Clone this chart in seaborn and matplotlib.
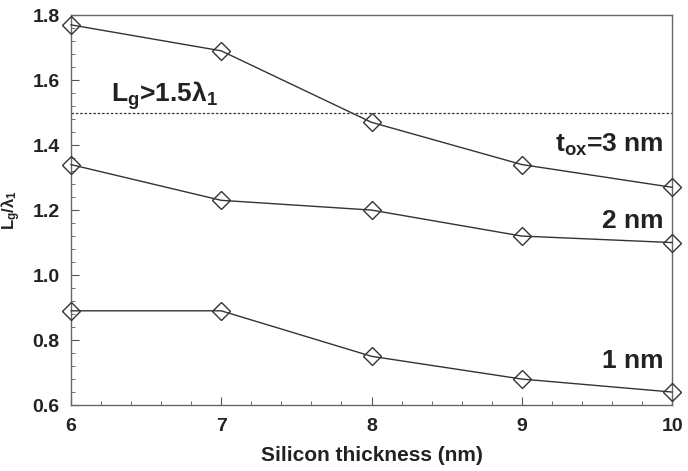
import matplotlib
matplotlib.use('Agg')
import matplotlib.pyplot as plt
from matplotlib.ticker import AutoMinorLocator
import pandas as pd
import seaborn as sns

thickness = [6, 7, 8, 9, 10]
tox_3nm = [1.77, 1.69, 1.47, 1.34, 1.27]
tox_2nm = [1.34, 1.23, 1.20, 1.12, 1.10]
tox_1nm = [0.89, 0.89, 0.75, 0.68, 0.64]
series_names = ['3 nm', '2 nm', '1 nm']
limit_value = 1.5

df = pd.DataFrame({
    'thickness': thickness * 3,
    'ratio': tox_3nm + tox_2nm + tox_1nm,
    'tox': [n for n in series_names for _ in thickness],
})

sns.set_style('ticks')
plt.rcParams['font.family'] = ['Liberation Sans', 'DejaVu Sans']
plt.rcParams['font.weight'] = 'bold'
plt.rcParams['mathtext.fontset'] = 'custom'
plt.rcParams['mathtext.rm'] = 'Liberation Sans:bold'
plt.rcParams['mathtext.it'] = 'Liberation Sans:bold'
plt.rcParams['mathtext.bf'] = 'Liberation Sans:bold'

fig = plt.figure(figsize=(6.88, 4.71), dpi=100)
ax = fig.add_axes([0.103, 0.140, 0.874, 0.828])

sns.lineplot(data=df, x='thickness', y='ratio', units='tox', estimator=None,
             color='#333333', lw=1.0, marker='D', ms=9, mfc='none', mec='#333333',
             mew=1.0, ax=ax, legend=False, clip_on=False, zorder=3)
ax.axhline(limit_value, color='#333333', lw=0.9, ls=(0, (2, 1.5)))

ax.set_xlim(6, 10)
ax.set_ylim(0.6, 1.8)
ax.set_xticks(thickness)
ax.set_yticks([0.6, 0.8, 1.0, 1.2, 1.4, 1.6, 1.8])
ax.xaxis.set_minor_locator(AutoMinorLocator(5))
ax.yaxis.set_minor_locator(AutoMinorLocator(5))
ax.tick_params(which='both', direction='in', top=False, right=False, color='#555555')
ax.tick_params(which='major', length=6, labelsize=14)
ax.tick_params(axis='x', which='major', pad=9)
ax.tick_params(axis='y', which='major', pad=8)
ax.tick_params(which='minor', length=3)
for lab in ax.get_xticklabels() + ax.get_yticklabels():
    lab.set_fontweight('bold')
    lab.set_color('#222222')
for s in ax.spines.values():
    s.set_color('#666666')
    s.set_linewidth(1.0)

ax.set_xlabel('Silicon thickness (nm)', fontsize=15, fontweight='bold', color='#222222')
ax.xaxis.set_label_coords(0.5, -0.105)
ax.set_ylabel(r'L$_g$/$\lambda_1$', fontsize=12, fontweight='bold', color='#222222')
ax.yaxis.set_label_coords(-0.08, 0.5)

txt = dict(fontsize=19, fontweight='bold', color='#222222', va='baseline')
ax.text(6.27, 1.532, r'L$_g$>1.5$\lambda_1$', **txt)
ax.text(9.94, 1.378, r't$_{ox}$=3 nm', ha='right', **txt)
ax.text(9.94, 1.145, '2 nm', ha='right', **txt)
ax.text(9.94, 0.714, '1 nm', ha='right', **txt)

fig.savefig('out.png', dpi=100)
